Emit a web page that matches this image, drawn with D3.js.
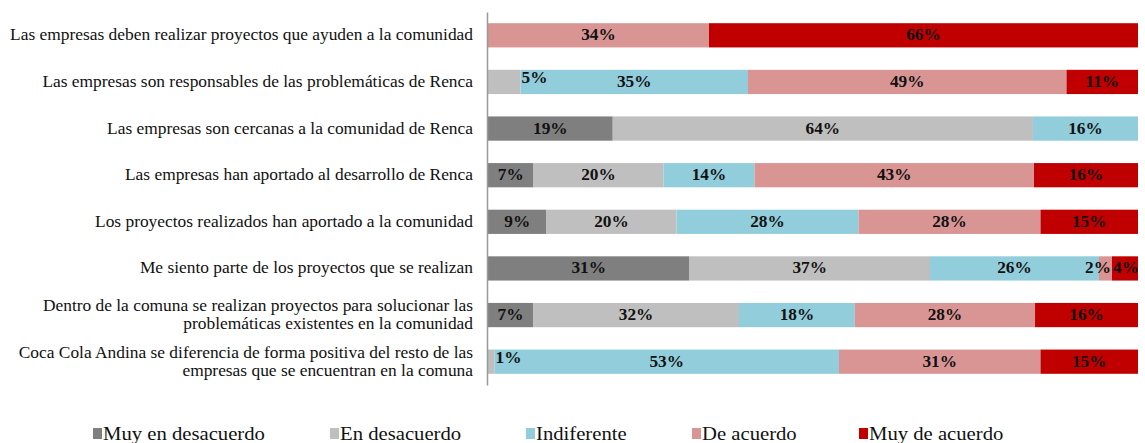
<html>
<head>
<meta charset="utf-8">
<script src="https://d3js.org/d3.v7.min.js"></script>
<style>
    body, html { margin: 0; padding: 0; background: #fff; }
    text { font-family: "Liberation Serif", "Times New Roman", serif; }
</style>
</head>
<body>
<div id="my_dataviz"></div>
<script>

// categories (top to bottom), each may span two lines
var questions = [
    ["Las empresas deben realizar proyectos que ayuden a la comunidad"],
    ["Las empresas son responsables de las problemáticas de Renca"],
    ["Las empresas son cercanas a la comunidad de Renca"],
    ["Las empresas han aportado al desarrollo de Renca"],
    ["Los proyectos realizados han aportado a la comunidad"],
    ["Me siento parte de los proyectos que se realizan"],
    ["Dentro de la comuna se realizan proyectos para solucionar las", "problemáticas existentes en la comunidad"],
    ["Coca Cola Andina se diferencia de forma positiva del resto de las", "empresas que se encuentran en la comuna"]
];

var answers = ["Muy en desacuerdo", "En desacuerdo", "Indiferente", "De acuerdo", "Muy de acuerdo"];

// series values (percent), one per answer, in question order
var muyDesacuerdo = [0, 0, 19, 7, 9, 31, 7, 0];
var enDesacuerdo  = [0, 5, 64, 20, 20, 37, 32, 1];
var indiferente   = [0, 35, 16, 14, 28, 26, 18, 53];
var deAcuerdo     = [34, 49, 0, 43, 28, 2, 28, 31];
var muyAcuerdo    = [66, 11, 0, 16, 15, 4, 16, 15];

var colors = ["#7f7f7f", "#bfbfbf", "#92cddc", "#d99594", "#c00000"];

var w = 1145, h = 443;
var margin = {top: 12, left: 488, right: 7, bottom: 58};
var width = w - margin.left - margin.right;
var height = h - margin.top - margin.bottom;

var svg = d3.select("#my_dataviz")
    .append("svg")
    .attr("width", w)
    .attr("height", h);

var rows = questions.map(function(q, i) {
    return {
        q: i,
        "Muy en desacuerdo": muyDesacuerdo[i],
        "En desacuerdo": enDesacuerdo[i],
        "Indiferente": indiferente[i],
        "De acuerdo": deAcuerdo[i],
        "Muy de acuerdo": muyAcuerdo[i]
    };
});

var series = d3.stack()
    .keys(answers)
    .offset(d3.stackOffsetExpand)(rows);

var x = d3.scaleLinear().domain([0, 1]).range([margin.left, margin.left + width]);
var y = d3.scaleBand()
    .domain(d3.range(questions.length))
    .range([margin.top, margin.top + height])
    .paddingInner(0.48)
    .paddingOuter(0.24);

var g = svg.append("g");

// bars
g.selectAll("g.serie")
    .data(series)
    .enter()
    .append("g")
    .attr("fill", function(d, i) { return colors[i]; })
    .selectAll("rect")
    .data(function(d) { return d; })
    .enter()
    .append("rect")
    .attr("x", function(d) { return x(d[0]); })
    .attr("y", function(d, i) { return y(i); })
    .attr("width", function(d) { return x(d[1]) - x(d[0]); })
    .attr("height", y.bandwidth());

// value labels
series.forEach(function(s, k) {
    s.forEach(function(d, i) {
        var v = rows[i][answers[k]];
        if (v === 0) return;
        var cx = (x(d[0]) + x(d[1])) / 2;
        var anchor = "middle";
        var dy = 0;
        // tiny grey slices: label sits just after the slice, a bit raised
        if (k == 1 && v <= 5) {
            cx = x(d[1]) + 1;
            anchor = "start";
            dy = -4;
        }
        // the 2% / 4% pair at the end of row 6
        if (i == 5 && k == 3) { cx = x(d[1]) - 1; anchor = "end"; }
        if (i == 5 && k == 4) { cx = x(d[0]) + 1; anchor = "start"; }
        g.append("text")
            .attr("transform", "translate(" + cx + "," + (y(i) + y.bandwidth() / 2 + 5 + dy) + ") scale(1.08,1)")
            .attr("text-anchor", anchor)
            .style("font-size", "16px")
            .style("font-weight", "bold")
            .attr("fill", "#111")
            .text(v + "%");
    });
});

// axis line (no ticks)
svg.append("g")
    .attr("transform", "translate(" + (margin.left - 1) + ",0)")
    .call(d3.axisLeft(y).tickSize(0).tickFormat(""))
    .call(function(a) { a.select(".domain").attr("stroke", "#999").attr("stroke-width", 1.5); });

// category labels
questions.forEach(function(q, i) {
    var cy = y(i) + y.bandwidth() / 2;
    var t = svg.append("text")
        .attr("text-anchor", "end")
        .attr("transform", "translate(473," + (cy + 5 - (q.length - 1) * 9) + ") scale(1.087,1)")
        .style("font-size", "16px")
        .attr("fill", "#111");
    q.forEach(function(line, j) {
        t.append("tspan")
            .attr("x", 0)
            .attr("dy", j == 0 ? 0 : 18)
            .text(line);
    });
});

// legend
var legendX = [93, 330, 526, 692, 859];
answers.forEach(function(a, i) {
    svg.append("rect")
        .attr("x", legendX[i])
        .attr("y", 428)
        .attr("width", 9)
        .attr("height", 11)
        .attr("fill", colors[i]);
    svg.append("text")
        .attr("transform", "translate(" + (legendX[i] + 10) + ",440) scale(1.15,1)")
        .style("font-size", "18px")
        .attr("fill", "#111")
        .text(a);
});

</script>
</body>
</html>
